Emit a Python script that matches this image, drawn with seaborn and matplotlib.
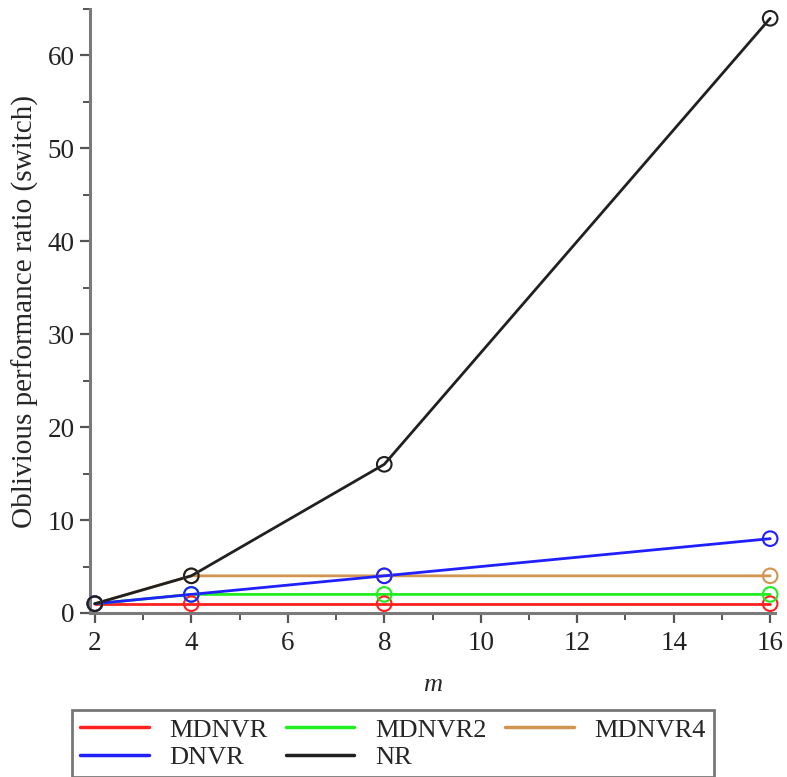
import matplotlib
matplotlib.use("Agg")
import matplotlib.pyplot as plt
from matplotlib.ticker import MultipleLocator
from matplotlib.lines import Line2D
import seaborn as sns
import pandas as pd

m_values = [2, 4, 8, 16]
mdnvr = [1, 1, 1, 1]
mdnvr2 = [1, 2, 2, 2]
mdnvr4 = [1, 4, 4, 4]
dnvr = [1, 2, 4, 8]
nr = [1, 4, 16, 64]

series_names = ["MDNVR", "MDNVR2", "MDNVR4", "DNVR", "NR"]
series_colors = ["#ff2020", "#20ee20", "#d29550", "#2020ff", "#202020"]

df = pd.DataFrame({
    "m": m_values * 5,
    "ratio": mdnvr + mdnvr2 + mdnvr4 + dnvr + nr,
    "algo": sum([[n] * len(m_values) for n in series_names], []),
})

sns.set_style("white")
plt.rcParams["font.family"] = ["Liberation Serif", "DejaVu Serif"]

fig = plt.figure(figsize=(7.87, 7.77), dpi=100)
ax = fig.add_axes([90 / 787, 1 - 613 / 777, (775 - 90) / 787, (613 - 9) / 777])

palette = dict(zip(series_names, series_colors))
sns.lineplot(data=df, x="m", y="ratio", hue="algo", palette=palette,
             hue_order=series_names, linewidth=2, ax=ax, legend=False)
for name in series_names:
    sub = df[df["algo"] == name]
    ax.scatter(sub["m"], sub["ratio"], s=110, facecolors="none",
               edgecolors=palette[name], linewidths=1.5, zorder=3, clip_on=False)

ax.set_xlim(1.9, 16.1)
ax.set_ylim(0, 65)
ax.xaxis.set_major_locator(MultipleLocator(2))
ax.xaxis.set_minor_locator(MultipleLocator(1))
ax.yaxis.set_major_locator(MultipleLocator(10))
ax.yaxis.set_minor_locator(MultipleLocator(5))

for side in ["top", "right"]:
    ax.spines[side].set_visible(False)
for side in ["left", "bottom"]:
    ax.spines[side].set_color("#7a7a7a")
    ax.spines[side].set_linewidth(2.2)

ax.tick_params(axis="both", which="both", bottom=True, left=True,
               top=False, right=False)
ax.tick_params(axis="both", which="major", direction="out", length=7, width=1.6,
               color="#555555", labelsize=19.5, labelcolor="#222222", pad=4)
ax.tick_params(axis="both", which="minor", direction="out", length=5, width=1.4,
               color="#555555")
ax.tick_params(axis="x", which="major", pad=6)

ax.set_xlabel("m", fontsize=19, fontstyle="italic", labelpad=13)
ax.set_ylabel("Oblivious performance ratio (switch)", fontsize=21, labelpad=6)

# row-major legend layout: MDNVR, MDNVR2, MDNVR4 / DNVR, NR
order = [0, 3, 1, 4, 2]
handles = [Line2D([], [], color=series_colors[i], linewidth=2.5) for i in order]
labels = [series_names[i] for i in order]
leg = fig.legend(handles, labels, ncol=3, loc="lower left",
                 bbox_to_anchor=(72 / 787, 0.0, (714 - 72) / 787, 70 / 777),
                 mode="expand", fontsize=19, frameon=True, fancybox=False,
                 handlelength=2.6, handletextpad=0.8, columnspacing=1.0,
                 borderaxespad=0.0, labelspacing=0.15, borderpad=0.3)
leg.get_frame().set_edgecolor("#555555")
leg.get_frame().set_linewidth(2)

fig.savefig("out.png", dpi=100)
